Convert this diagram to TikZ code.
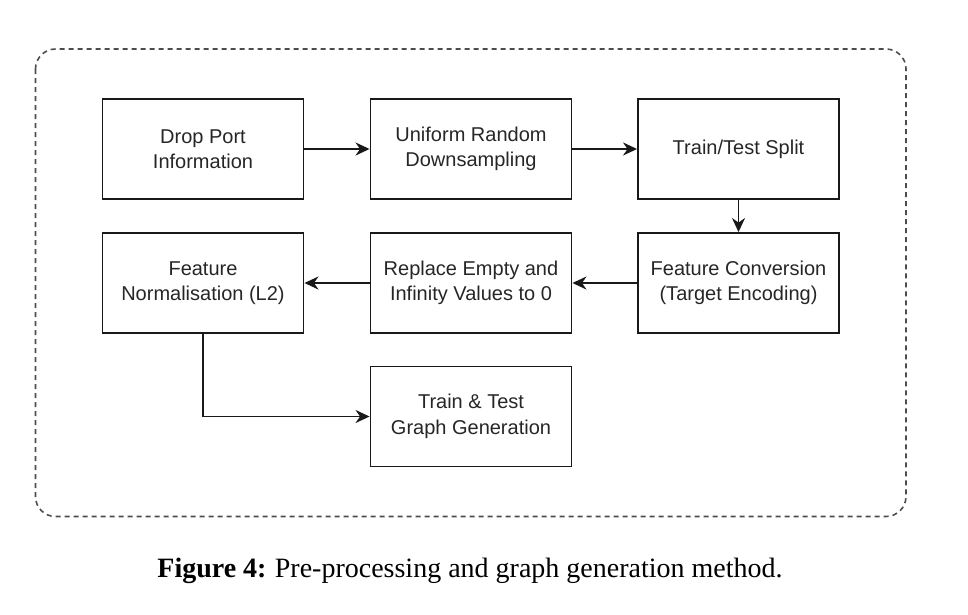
\documentclass[tikz,border=0pt]{standalone}
\usepackage{fontspec}
\setmainfont{Liberation Serif}
\newfontfamily\boxfont{Liberation Sans}
\usetikzlibrary{arrows.meta}
\begin{document}
\begin{tikzpicture}[x=1pt,y=1pt,
  stepbox/.style={draw=black!90, line width=1.9pt, minimum width=201pt, minimum height=100pt,
    inner sep=0pt, align=center, text=black!85,
    font=\boxfont\fontsize{20}{25.5}\selectfont},
  flow/.style={draw=black!90, line width=1.9pt, -{Stealth[length=14pt,width=13pt,inset=4.5pt]}},
  frame/.style={draw=black!70, line width=1.6pt, dash pattern=on 5pt off 4pt, rounded corners=20pt}]
\useasboundingbox (0,0) rectangle (968,-614);
\draw[frame] (35.5,-49) rectangle (906,-516.5);
\node[stepbox] (drop) at (203,-149) {Drop Port\\Information};
\node[stepbox] (down) at (471,-149) {Uniform Random\\Downsampling};
\node[stepbox] (split) at (738.5,-149) {Train/Test Split};
\node[stepbox] (conv) at (738.5,-283) {Feature Conversion\\(Target Encoding)};
\node[stepbox] (repl) at (471,-283) {Replace Empty and\\Infinity Values to 0};
\node[stepbox] (norm) at (203,-283) {Feature\\Normalisation (L2)};
\node[stepbox] (gen) at (471,-416.5) {Train \& Test\\Graph Generation};
\draw[flow] (drop) -- (down);
\draw[flow] (down) -- (split);
\draw[flow] (split) -- (conv);
\draw[flow] (conv) -- (repl);
\draw[flow] (repl) -- (norm);
\draw[flow] (norm.south) |- (gen.west);
\node[font=\fontsize{28}{32}\selectfont, text=black] (cap) at (470,-571) {\textbf{Figure 4:}\kern-1pt{} Pre-processing and graph generation method.};
\end{tikzpicture}
\end{document}
